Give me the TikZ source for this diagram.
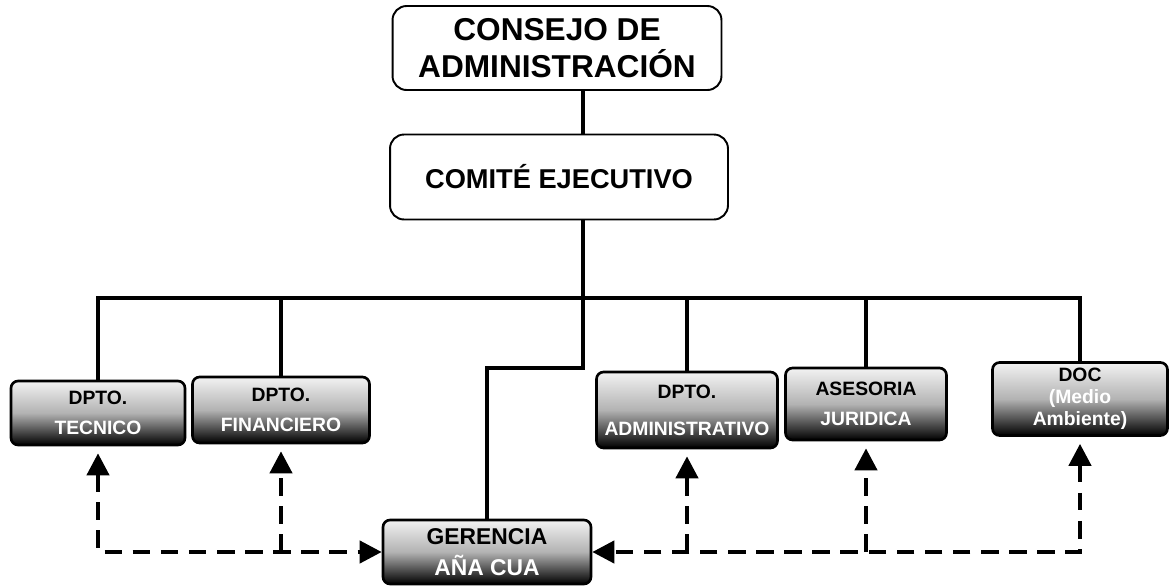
\documentclass[tikz,border=0pt]{standalone}
\usepackage{fontspec}
\setmainfont{Liberation Sans}
\usetikzlibrary{arrows.meta, positioning}

\begin{document}
\begin{tikzpicture}[
    x=0.02cm, y=-0.02cm,
    topbox/.style={draw, line width=1.1pt, rounded corners=8pt, inner sep=0pt, align=center,
        font=\fontsize{15.5}{20}\selectfont\bfseries},
    lowbox/.style={draw, line width=1.5pt, rounded corners=4pt, inner sep=0pt, align=center,
        top color=gray!10, bottom color=black, middle color=gray!60,
        font=\fontsize{11}{17}\selectfont\bfseries},
    link/.style={line width=2.4pt},
    dasharrow/.style={line width=2.4pt, dash pattern=on 10pt off 6pt,
        arrows={-Triangle[width=0.44cm, length=0.44cm]}},
    bothtips/.style={arrows={Triangle[width=0.44cm, length=0.44cm]-Triangle[width=0.44cm, length=0.44cm]}}
]
    \useasboundingbox (0,0) rectangle (1171,586);

    % Top of the chart
    \node[topbox, minimum width=6.58cm, minimum height=1.68cm,
        font=\fontsize{18}{21.5}\selectfont\bfseries] (consejo) at (557,48)
        {CONSEJO DE\\ADMINISTRACIÓN};
    \node[topbox, minimum width=6.76cm, minimum height=1.7cm] (comite) at (559,177)
        {COMITÉ EJECUTIVO};

    % Departments
    \node[lowbox, minimum width=3.48cm, minimum height=1.28cm] (tecnico) at (98,413)
        {DPTO.\\\textcolor{white}{TECNICO}};
    \node[lowbox, minimum width=3.54cm, minimum height=1.32cm] (financiero) at (281,410)
        {DPTO.\\\textcolor{white}{FINANCIERO}};
    \node[lowbox, minimum width=3.62cm, minimum height=1.52cm] (admin) at (687,410)
        {DPTO.\\[4pt]\textcolor{white}{ADMINISTRATIVO}};
    \node[lowbox, minimum width=3.22cm, minimum height=1.44cm] (juridica) at (866,404)
        {ASESORIA\\\textcolor{white}{JURIDICA}};
    \node[lowbox, minimum width=3.5cm, minimum height=1.46cm,
        font=\fontsize{11}{12.5}\selectfont\bfseries] (doc) at (1080,399)
        {DOC\\\textcolor{white}{(Medio}\\\textcolor{white}{Ambiente)}};

    % Gerencia
    \node[lowbox, minimum width=4.16cm, minimum height=1.28cm,
        font=\fontsize{13}{18}\selectfont\bfseries] (gerencia) at (487,552)
        {GERENCIA\\\textcolor{white}{AÑA CUA}};

    % Solid lines
    \coordinate (hub) at (583,298);
    \coordinate (gbend) at (583,368);
    \draw[link] (consejo.south -| hub) -- (comite.north -| hub);
    \draw[link] (comite.south -| hub) -- (gbend) -| (gerencia.north);
    \draw[link] (tecnico.north) -- (tecnico.north |- hub) -- (doc.north |- hub) -- (doc.north);
    \foreach \dep in {financiero, admin, juridica}
        \draw[link] (\dep.north |- hub) -- (\dep.north);

    % Dashed arrows
    \draw[dasharrow, bothtips, shorten <=0.14cm] (tecnico.south) |- (gerencia.west);
    \draw[dasharrow, shorten >=0.14cm] (financiero.south |- gerencia.west) -- (financiero.south);
    \draw[dasharrow, bothtips, shorten <=0.14cm] (doc.south) |- (gerencia.east);
    \foreach \dep in {admin, juridica}
        \draw[dasharrow, shorten >=0.14cm] (\dep.south |- gerencia.east) -- (\dep.south);

\end{tikzpicture}
\end{document}
